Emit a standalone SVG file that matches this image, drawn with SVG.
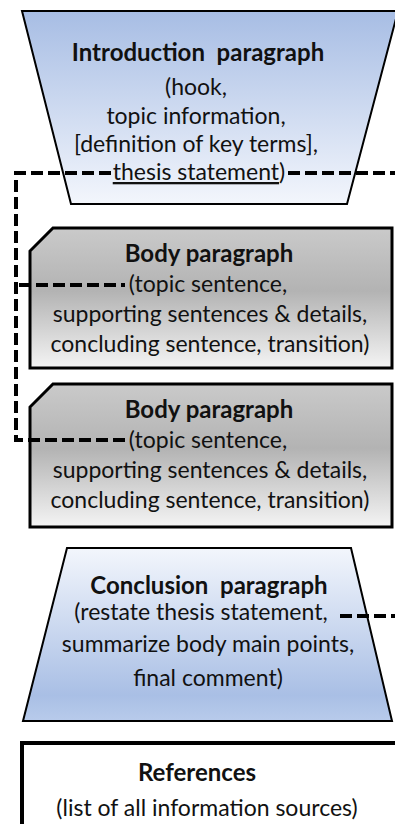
<svg xmlns="http://www.w3.org/2000/svg" width="395" height="824" viewBox="0 0 395 824">
<style>
text{font-family:Lato,"Open Sans","Liberation Sans",sans-serif;fill:#111;text-anchor:middle}
.h{font-weight:bold;font-size:24px}
.t{font-size:23px}
.conn{fill:none;stroke:#000;stroke-width:4;stroke-dasharray:12 5}
</style>
<defs>
<linearGradient id="gIntro" x1="0" y1="0" x2="0" y2="1">
<stop offset="0" stop-color="#a7bde4"/><stop offset="1" stop-color="#f3f6fc"/>
</linearGradient>
<linearGradient id="gConc" x1="0" y1="0" x2="0" y2="1">
<stop offset="0" stop-color="#f3f6fc"/><stop offset="0.85" stop-color="#a9bfe5"/><stop offset="1" stop-color="#b8cbeb"/>
</linearGradient>
<linearGradient id="gBody" x1="0" y1="0" x2="0" y2="1">
<stop offset="0" stop-color="#cacaca"/><stop offset="0.45" stop-color="#b3b3b3"/><stop offset="1" stop-color="#f4f4f4"/>
</linearGradient>
</defs>
<g id="intro">
<path d="M22,11 H398 L347,204 H71 Z" fill="url(#gIntro)" stroke="#000" stroke-width="2"/>
<text class="h" x="198" y="61" xml:space="preserve">Introduction  paragraph</text>
<text class="t" x="196" y="95">(hook,</text>
<text class="t" x="196" y="124">topic information,</text>
<text class="t" x="196" y="152">[definition of key terms],</text>
<text class="t" x="199" y="180"><tspan text-decoration="underline">thesis statement</tspan>)</text>
</g>
<g id="body1">
<path d="M53,228 H392 V368 H30 V251 Z" fill="url(#gBody)" stroke="#000" stroke-width="3"/>
<text class="h" x="209" y="262">Body paragraph</text>
<text class="t" x="208" y="292">(topic sentence,</text>
<text class="t" x="210" y="322">supporting sentences &amp; details,</text>
<text class="t" x="210" y="352">concluding sentence, transition)</text>
</g>
<g id="body2">
<path d="M53,384 H392 V527 H30 V407 Z" fill="url(#gBody)" stroke="#000" stroke-width="3"/>
<text class="h" x="209" y="418">Body paragraph</text>
<text class="t" x="208" y="448">(topic sentence,</text>
<text class="t" x="210" y="478">supporting sentences &amp; details,</text>
<text class="t" x="210" y="508">concluding sentence, transition)</text>
</g>
<g id="conclusion">
<path d="M67,548 H351 L392,721 H23 Z" fill="url(#gConc)" stroke="#000" stroke-width="2"/>
<text class="h" x="209" y="594" xml:space="preserve">Conclusion  paragraph</text>
<text class="t" x="201" y="620">(restate thesis statement,</text>
<text class="t" x="208" y="652">summarize body main points,</text>
<text class="t" x="208" y="686">final comment)</text>
</g>
<g id="references">
<rect x="22" y="743" width="380" height="100" fill="#fff" stroke="#000" stroke-width="4"/>
<text class="h" x="197" y="781">References</text>
<text class="t" x="207" y="816">(list of all information sources)</text>
</g>
<g id="connectors">
<path class="conn" d="M111,173 H16 V440 H125"/>
<path class="conn" d="M288,173 H395"/>
<path class="conn" d="M19,285 H125"/>
<path class="conn" d="M340,616 H395"/>
</g>
</svg>
